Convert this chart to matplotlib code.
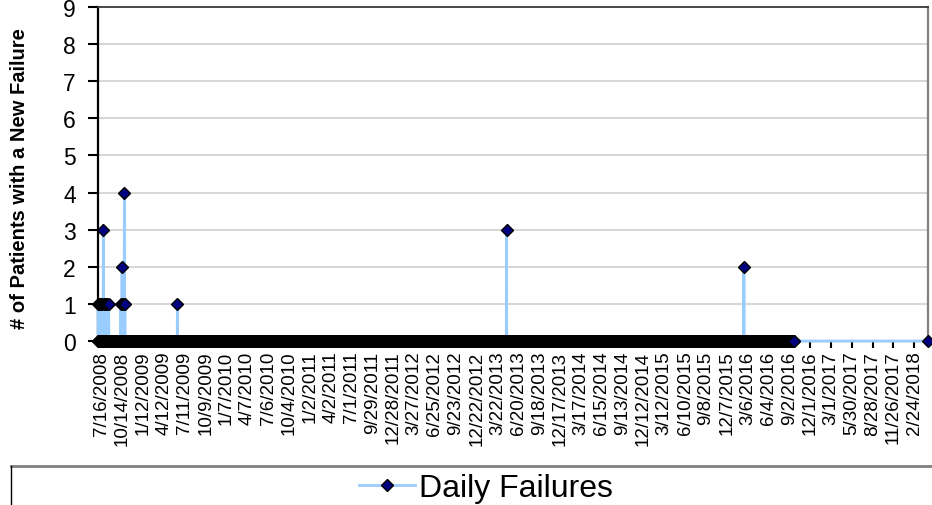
import pandas as pd
import matplotlib
matplotlib.use('Agg')
import matplotlib.pyplot as plt
from matplotlib.lines import Line2D

plt.rcParams['font.family'] = ['Liberation Sans', 'DejaVu Sans']

# days with at least one new failure, and how many patients failed that day
failure_dates = ['2008-07-01', '2008-07-04', '2008-07-08', '2008-07-11', '2008-07-15',
                 '2008-07-19', '2008-07-24', '2008-07-28', '2008-08-01', '2008-08-06',
                 '2008-08-11', '2008-08-16',
                 '2008-10-08', '2008-10-13', '2008-10-16', '2008-10-19', '2008-10-23',
                 '2008-10-25',
                 '2009-06-09', '2013-04-30', '2016-02-19']
failure_counts = [1, 1, 1, 1, 1, 1, 3, 1, 1, 1, 1, 1,
                  1, 2, 1, 1, 4, 1,
                  1, 3, 2]

# daily tracking period, then one last check-in
first_day = '2008-07-01'
last_daily = '2016-09-22'
final_check = '2018-04-24'

# axis labels every 90 days
tick_start = '2008-07-16'
tick_end = '2018-02-24'

#build the daily series (0 on days without a failure)
days = pd.date_range(first_day, last_daily, freq='D')
daily = pd.Series(0, index=days)
daily[pd.to_datetime(failure_dates)] = failure_counts
daily[pd.Timestamp(final_check)] = 0

fig = plt.figure(figsize=(9.32, 5.06), dpi=100)
ax = fig.add_axes([98/932, 1-342/506, 830/932, 334/506])

line, = ax.plot(daily.index, daily.values, color='#99CCFF', lw=2,
                marker='D', ms=6.3, mfc='#000080', mec='black', mew=1,
                clip_on=False, zorder=3, label='Daily Failures')

ax.set_xlim(pd.Timestamp(first_day), pd.Timestamp(final_check))
ax.set_ylim(0, 9)
ax.set_yticks(range(0, 10))
ax.grid(axis='y', color='#D0D0D0', lw=1.2)
ax.set_axisbelow(True)

ticks = pd.date_range(tick_start, tick_end, freq='90D')
ax.set_xticks(ticks)
ax.set_xticklabels([f'{d.month}/{d.day}/{d.year}' for d in ticks], rotation=90,
                   fontsize=13.5)
ax.tick_params(axis='x', direction='out', length=5, width=1.5, pad=2)
ax.tick_params(axis='y', direction='out', length=7, width=1.5, pad=9, labelsize=16.5)

ax.spines['left'].set_color('black')
ax.spines['left'].set_linewidth(1.6)
ax.spines['bottom'].set_color('black')
ax.spines['top'].set_color('#3A3A3A')
ax.spines['top'].set_linewidth(1.3)
ax.spines['right'].set_color('#808080')
ax.spines['right'].set_linewidth(1.6)

ax.set_ylabel('# of Patients with a New Failure', fontsize=14.5, fontweight='bold')
ax.yaxis.set_label_coords(-0.083, 0.49)

#legend box running off the bottom right
fig.add_artist(Line2D([11/932, 1], [1-467/506]*2, transform=fig.transFigure,
                      color='#808080', lw=2))
fig.add_artist(Line2D([11/932]*2, [0, 1-467/506], transform=fig.transFigure,
                      color='black', lw=1))
fig.legend(handles=[line], loc='center', bbox_to_anchor=(486/932, 1-489/506),
           frameon=False, fontsize=23, handlelength=1.75, numpoints=1,
           handletextpad=0.15)

fig.savefig('out.png', dpi=100)
